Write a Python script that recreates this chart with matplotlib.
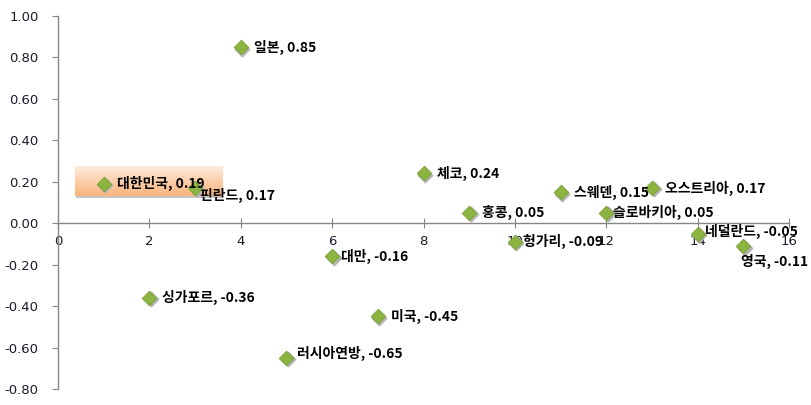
import matplotlib
matplotlib.use("Agg")
import matplotlib.pyplot as plt
import numpy as np

# 데이터
countries = ["대한민국", "싱가포르", "핀란드", "일본", "러시아연방", "대만", "미국", "체코",
             "홍콩", "헝가리", "스웨덴", "슬로바키아", "오스트리아", "네덜란드", "영국"]
x_vals = [1, 2, 3, 4, 5, 6, 7, 8, 9, 10, 11, 12, 13, 14, 15]
y_vals = [0.19, -0.36, 0.17, 0.85, -0.65, -0.16, -0.45, 0.24,
          0.05, -0.09, 0.15, 0.05, 0.17, -0.05, -0.11]

x_ticks = [0, 2, 4, 6, 8, 10, 12, 14, 16]
y_ticks = [-0.8, -0.6, -0.4, -0.2, 0.0, 0.2, 0.4, 0.6, 0.8, 1.0]

plt.rcParams['font.family'] = ['Noto Sans CJK KR', 'DejaVu Sans']

fig = plt.figure(figsize=(8.11, 4.05), dpi=100)
ax = fig.add_axes([0.0715, 0.0395, 0.9015, 0.9210])

ax.set_xlim(0, 16)
ax.set_ylim(-0.8, 1.0)

# 강조 박스 (대한민국)
kx, ky = x_vals[0], y_vals[0]
grad = np.linspace(0, 1, 50).reshape(-1, 1)
cmap = matplotlib.colors.LinearSegmentedColormap.from_list("peach", ["#fdeadb", "#fbb47c"])
shadow = matplotlib.patches.Rectangle((kx - 0.6, ky - 0.07), 3.22, 0.145,
                                      facecolor="#c4c4c4", edgecolor="none", zorder=0.5)
ax.add_patch(shadow)
ax.imshow(grad, cmap=cmap, aspect="auto", origin="upper",
          extent=(kx - 0.63, kx + 2.59, ky - 0.06, ky + 0.08), zorder=1)

# 그림자 + 마커
ax.scatter(x_vals, y_vals, marker="D", s=55, color="#b5b5b5", zorder=2,
           transform=ax.transData + matplotlib.transforms.ScaledTranslation(1.5/100, -1.5/100, fig.dpi_scale_trans))
ax.scatter(x_vals, y_vals, marker="D", s=55, color="#8cb440", edgecolor="#7aa032",
           linewidth=0.6, zorder=3)

# 라벨 오프셋 (픽셀)
offsets = {"핀란드": (5, -7), "영국": (-2, -15), "러시아연방": (11, 4),
           "헝가리": (8, 0), "슬로바키아": (7, 0), "네덜란드": (7, 2), "대만": (9, 0)}
for name, x, y in zip(countries, x_vals, y_vals):
    dx, dy = offsets.get(name, (13, 0))
    ax.annotate(f"{name}, {y:.2f}", (x, y), xytext=(dx * 0.72, dy * 0.72),
                textcoords="offset points", ha="left", va="center",
                fontsize=10, fontweight="bold", color="black", zorder=4)

# 축
for s in ["top", "right"]:
    ax.spines[s].set_visible(False)
ax.spines["bottom"].set_position(("data", 0))
ax.spines["left"].set_position(("data", 0))
for s in ["bottom", "left"]:
    ax.spines[s].set_color("#868686")
    ax.spines[s].set_linewidth(1.0)

ax.set_xticks(x_ticks)
ax.set_yticks(y_ticks)
ax.set_xticklabels([str(t) for t in x_ticks])
ax.set_yticklabels([f"{t:.2f}" for t in y_ticks])
ax.tick_params(axis="x", direction="inout", length=7, color="#868686",
               labelsize=9.5, pad=5, labelcolor="#1a1a2e")
ax.tick_params(axis="y", direction="out", length=4, color="#868686",
               labelsize=9.5, pad=10, labelcolor="#1a1a2e")
for lbl in ax.get_xticklabels() + ax.get_yticklabels():
    lbl.set_family(['DejaVu Sans'])

fig.savefig("out.png", dpi=100)
